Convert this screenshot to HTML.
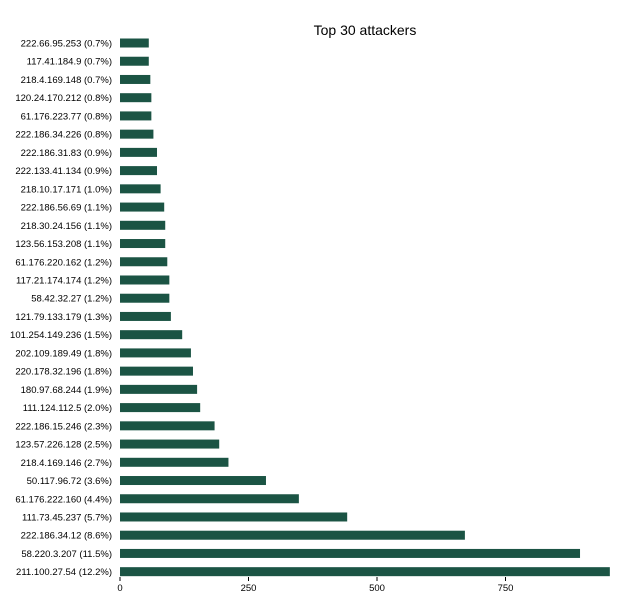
<!DOCTYPE html>
<html><head><meta charset="utf-8"><style>
body{margin:0;background:#fff;font-family:"Liberation Sans",Arial,sans-serif}
svg text{font-family:"Liberation Sans",Arial,sans-serif}
</style></head><body>
<svg id="chart" width="630" height="600" xmlns="http://www.w3.org/2000/svg">
<text x="365" y="35" font-size="14" text-anchor="middle" fill="#000">Top 30 attackers</text>
<g id="bars"></g><g id="axis"></g>
</svg>
<script>
const categories=["222.66.95.253 (0.7%)","117.41.184.9 (0.7%)","218.4.169.148 (0.7%)","120.24.170.212 (0.8%)","61.176.223.77 (0.8%)","222.186.34.226 (0.8%)","222.186.31.83 (0.9%)","222.133.41.134 (0.9%)","218.10.17.171 (1.0%)","222.186.56.69 (1.1%)","218.30.24.156 (1.1%)","123.56.153.208 (1.1%)","61.176.220.162 (1.2%)","117.21.174.174 (1.2%)","58.42.32.27 (1.2%)","121.79.133.179 (1.3%)","101.254.149.236 (1.5%)","202.109.189.49 (1.8%)","220.178.32.196 (1.8%)","180.97.68.244 (1.9%)","111.124.112.5 (2.0%)","222.186.15.246 (2.3%)","123.57.226.128 (2.5%)","218.4.169.146 (2.7%)","50.117.96.72 (3.6%)","61.176.222.160 (4.4%)","111.73.45.237 (5.7%)","222.186.34.12 (8.6%)","58.220.3.207 (11.5%)","211.100.27.54 (12.2%)"];
const values=[56,56,59,61,61,65,72,72,79,86,88,88,92,96,96,99,121,138,142,150,156,184,193,211,284,348,442,671,895,953];
const ticks=[0,250,500,750];
const x0=120,k=128.5/250,yTop=43,step=18.23,bh=9;
const xs=v=>x0+v*k, ys=i=>yTop+i*step;
const NS="http://www.w3.org/2000/svg";
const gb=document.getElementById('bars'),ga=document.getElementById('axis');
categories.forEach((c,i)=>{
 const r=document.createElementNS(NS,'rect');
 r.setAttribute('x',x0);r.setAttribute('y',ys(i)-bh/2);
 r.setAttribute('width',xs(values[i])-x0);r.setAttribute('height',bh);
 r.setAttribute('fill','#1b5444');
 
 
 gb.appendChild(r);
 const t=document.createElementNS(NS,'text');
 t.setAttribute('x',112);t.setAttribute('y',ys(i)+3.5);
 t.setAttribute('font-size','9.5');t.setAttribute('text-anchor','end');
 t.textContent=c;
 
 
 gb.appendChild(t);
});
ticks.forEach(v=>{
 const l=document.createElementNS(NS,'line');
 l.setAttribute('x1',xs(v));l.setAttribute('x2',xs(v));
 l.setAttribute('y1',577);l.setAttribute('y2',581);l.setAttribute('stroke','#000');
 
 
 ga.appendChild(l);
 const t=document.createElementNS(NS,'text');
 t.setAttribute('x',xs(v));t.setAttribute('y',591);
 t.setAttribute('font-size','9.5');t.setAttribute('text-anchor','middle');
 t.textContent=v;
 
 
 ga.appendChild(t);
});
</script>
</body></html>
